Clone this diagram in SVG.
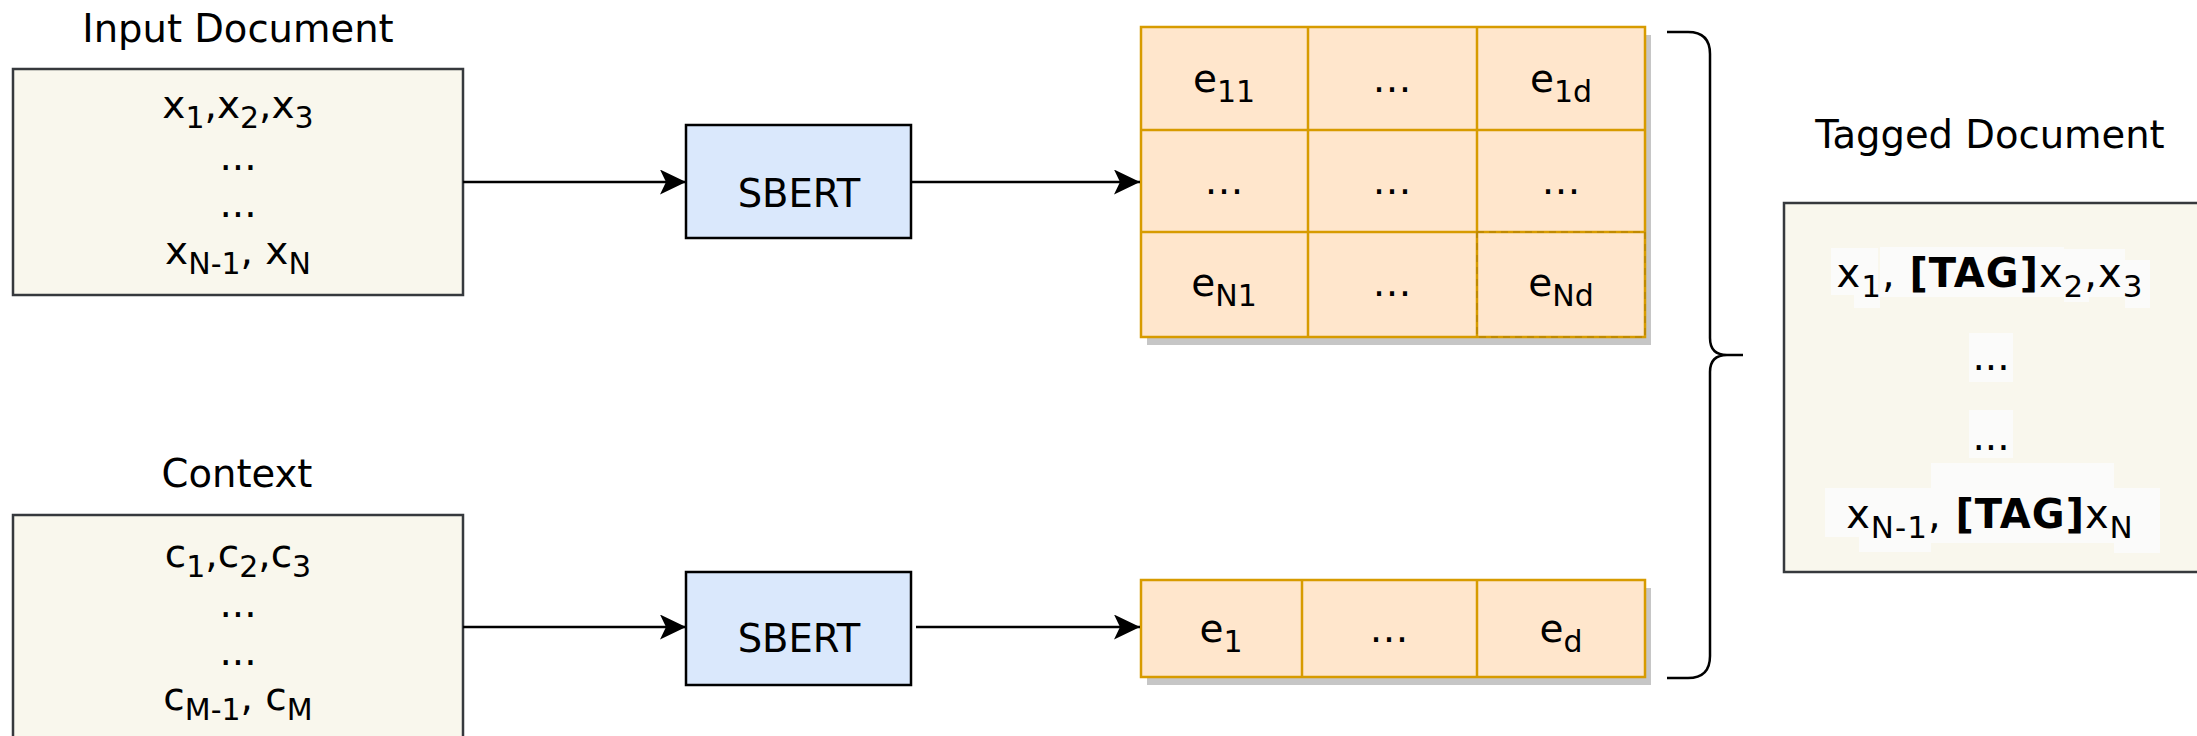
<svg xmlns="http://www.w3.org/2000/svg" width="2197" height="736" viewBox="0 0 2197 736">
  <defs>
    <style>
      .t { font-family: "DejaVu Sans", Verdana, sans-serif; font-size: 39px; fill: #000; text-anchor: middle; }
      .title { font-size: 38.5px; }
      .s { font-size: 30px; }
      .tg { font-size: 40px; letter-spacing: 1px; }
      .tg .s { font-size: 31px; }
      .b { font-weight: bold; }
      .doc { fill: #f9f7ed; stroke: #36393d; stroke-width: 2.5; }
      .enc { fill: #dae8fc; stroke: #000; stroke-width: 2.5; }
      .cell { fill: #ffe6cc; stroke: #d79b00; stroke-width: 2.5; }
      .grid { stroke: #d79b00; stroke-width: 2.5; fill: none; }
      .shadow { fill: #c6c6c6; }
      .hl { fill: #fbfbfa; }
      .edge { stroke: #000; stroke-width: 2.5; fill: none; marker-end: url(#arrow); }
      .brace { stroke: #000; stroke-width: 2.5; fill: none; }
    </style>
    <marker id="arrow" markerUnits="userSpaceOnUse" markerWidth="28" markerHeight="27" refX="26" refY="12.5" orient="auto">
      <path d="M0,0 L26,12.5 L0,25 L6,12.5 Z" fill="#000"/>
    </marker>
  </defs>

  <rect width="2197" height="736" fill="#fff"/>

  <!-- Input document -->
  <g id="input-document">
    <text class="t title" x="238" y="42">Input Document</text>
    <rect class="doc" x="13" y="69" width="450" height="226"/>
    <text class="t" x="238" y="118">x<tspan class="s" dy="10">1</tspan><tspan dy="-10">,x</tspan><tspan class="s" dy="10">2</tspan><tspan dy="-10">,x</tspan><tspan class="s" dy="10">3</tspan></text>
    <text class="t" x="238" y="170">...</text>
    <text class="t" x="238" y="217">...</text>
    <text class="t" x="238" y="264">x<tspan class="s" dy="10">N-1</tspan><tspan dy="-10">, x</tspan><tspan class="s" dy="10">N</tspan></text>
  </g>

  <!-- Context -->
  <g id="context">
    <text class="t title" x="237" y="487">Context</text>
    <rect class="doc" x="13" y="515" width="450" height="240"/>
    <text class="t" x="238" y="567">c<tspan class="s" dy="10">1</tspan><tspan dy="-10">,c</tspan><tspan class="s" dy="10">2</tspan><tspan dy="-10">,c</tspan><tspan class="s" dy="10">3</tspan></text>
    <text class="t" x="238" y="617">...</text>
    <text class="t" x="238" y="665">...</text>
    <text class="t" x="238" y="710">c<tspan class="s" dy="10">M-1</tspan><tspan dy="-10">, c</tspan><tspan class="s" dy="10">M</tspan></text>
  </g>

  <!-- Encoders -->
  <g id="sbert-document">
    <rect class="enc" x="686" y="125" width="225" height="113"/>
    <text class="t title" x="799" y="207">SBERT</text>
  </g>
  <g id="sbert-context">
    <rect class="enc" x="686" y="572" width="225" height="113"/>
    <text class="t title" x="799" y="652">SBERT</text>
  </g>

  <!-- Document embedding matrix (N x d) -->
  <g id="document-embeddings">
    <rect class="shadow" x="1147" y="35" width="504" height="310"/>
    <rect class="cell" x="1141" y="27" width="504" height="310"/>
    <path class="grid" d="M1308,27 V337 M1477,27 V337 M1141,130 H1645 M1141,232 H1645"/>
    <path d="M1477,232 H1645 V337 H1477 Z" fill="none" stroke="#b98500" stroke-width="1.5" stroke-dasharray="7 5"/>
    <text class="t" x="1224" y="92">e<tspan class="s" dy="10">11</tspan></text>
    <text class="t" x="1392" y="92">…</text>
    <text class="t" x="1561" y="92">e<tspan class="s" dy="10">1d</tspan></text>
    <text class="t" x="1224" y="194">…</text>
    <text class="t" x="1392" y="194">…</text>
    <text class="t" x="1561" y="194">…</text>
    <text class="t" x="1224" y="296">e<tspan class="s" dy="10">N1</tspan></text>
    <text class="t" x="1392" y="296">…</text>
    <text class="t" x="1561" y="296">e<tspan class="s" dy="10">Nd</tspan></text>
  </g>

  <!-- Context embedding vector (1 x d) -->
  <g id="context-embedding">
    <rect class="shadow" x="1147" y="588" width="504" height="97"/>
    <rect class="cell" x="1141" y="580" width="504" height="97"/>
    <path class="grid" d="M1302,580 V677 M1477,580 V677"/>
    <text class="t" x="1221" y="642">e<tspan class="s" dy="10">1</tspan></text>
    <text class="t" x="1389" y="642">…</text>
    <text class="t" x="1561" y="642">e<tspan class="s" dy="10">d</tspan></text>
  </g>

  <!-- Tagged document -->
  <g id="tagged-document">
    <text class="t title" x="1990" y="148">Tagged Document</text>
    <rect class="doc" x="1784" y="203" width="450" height="369"/>
    <g class="hl">
      <rect x="1831" y="248" width="47" height="47"/>
      <rect x="1854" y="292" width="26" height="16"/>
      <rect x="1880" y="247" width="184" height="50"/>
      <rect x="2064" y="249" width="25" height="53"/>
      <rect x="2089" y="249" width="36" height="48"/>
      <rect x="2125" y="260" width="25" height="48"/>
      <rect x="1969" y="333" width="44" height="49"/>
      <rect x="1969" y="410" width="44" height="48"/>
      <rect x="1825" y="488" width="34" height="49"/>
      <rect x="1859" y="488" width="72" height="64"/>
      <rect x="1931" y="463" width="183" height="80"/>
      <rect x="2114" y="488" width="46" height="65"/>
    </g>
    <text class="t tg" x="1990" y="287">x<tspan class="s" dy="10">1</tspan><tspan dy="-10">, </tspan><tspan class="b">[TAG]</tspan>x<tspan class="s" dy="10">2</tspan><tspan dy="-10">,x</tspan><tspan class="s" dy="10">3</tspan></text>
    <text class="t" x="1991" y="370">...</text>
    <text class="t" x="1991" y="450">...</text>
    <text class="t tg" x="1990" y="528">x<tspan class="s" dy="10">N-1</tspan><tspan dy="-10">, </tspan><tspan class="b">[TAG]</tspan>x<tspan class="s" dy="10">N</tspan></text>
  </g>

  <!-- Connectors -->
  <g id="connectors">
    <path class="edge" d="M463,182 H686"/>
    <path class="edge" d="M911,182 H1140"/>
    <path class="edge" d="M463,627 H686"/>
    <path class="edge" d="M916,627 H1140"/>
    <path class="brace" d="M1667,32 H1688 Q1710,32 1710,54 V338 Q1710,355 1727,355 H1743 M1727,355 Q1710,355 1710,372 V656 Q1710,678 1688,678 H1667"/>
  </g>
</svg>
